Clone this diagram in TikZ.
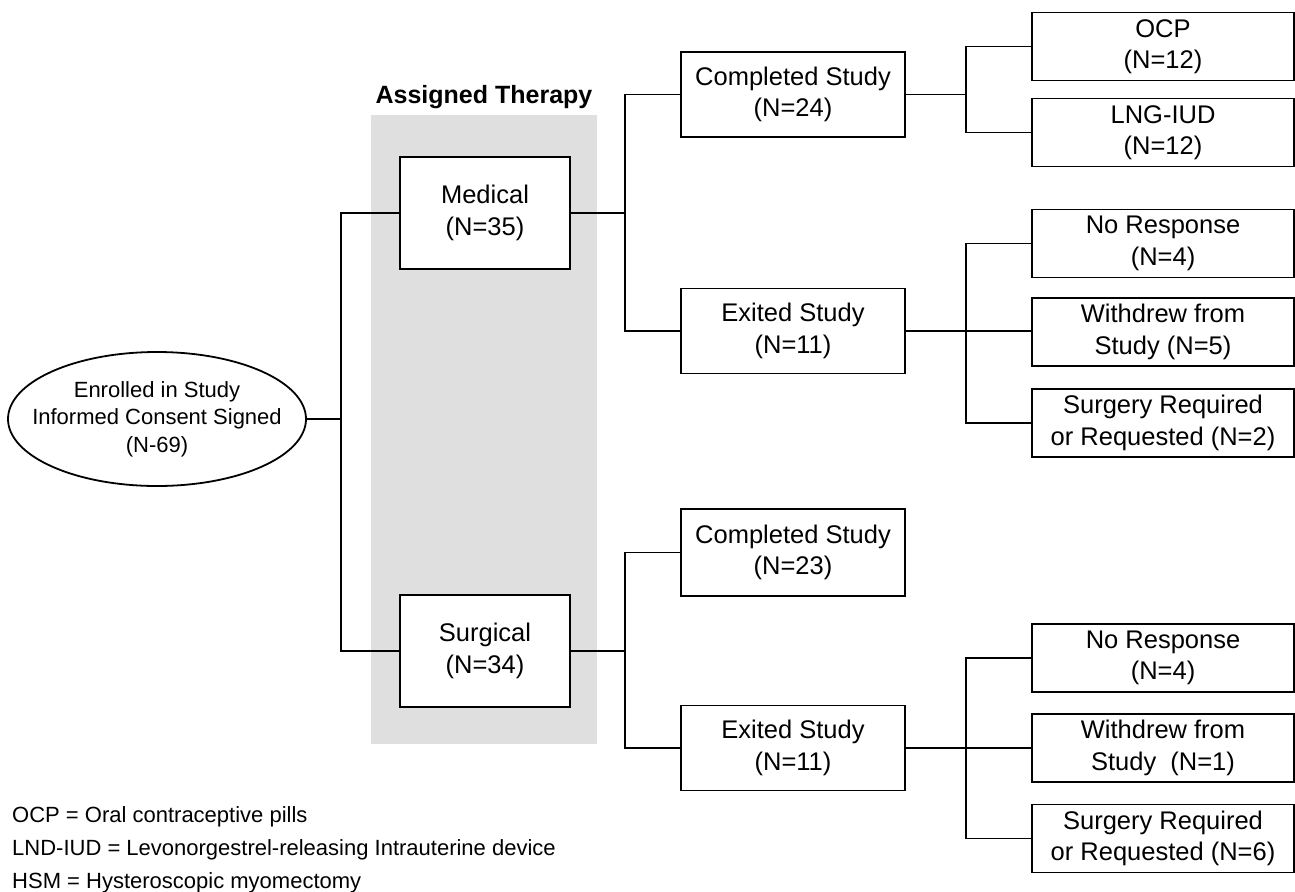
\documentclass[tikz,border=0pt]{standalone}
\usepackage{fontspec}
\setmainfont{Liberation Sans}
\usetikzlibrary{shapes.geometric}
\definecolor{panelgray}{RGB}{223,223,223}
\tikzset{
  conn/.style={draw=black, line width=1.8pt},
  box/.style={draw=black, line width=1.8pt, fill=white, align=center, inner sep=0pt,
    font=\fontsize{25.5}{31.5}\selectfont},
  midbox/.style={box, minimum width=224pt, minimum height=85pt},
  armbox/.style={box, minimum width=170pt, minimum height=112pt},
  endbox/.style={box, minimum width=262pt, minimum height=68pt},
  legend/.style={anchor=west, inner sep=0pt, font=\fontsize{22}{26}\selectfont},
}
\begin{document}
\begin{tikzpicture}[x=1pt,y=-1pt]
\useasboundingbox (0,0) rectangle (1295,891);
\fill[white] (0,0) rectangle (1295,891);
% shaded panel
\fill[panelgray] (371,115) rectangle (597,744);
\node[font=\fontsize{25}{30}\selectfont\bfseries, inner sep=0pt] (title) at (484,97) {Assigned Therapy};

% start
\node[ellipse, draw=black, line width=1.8pt, fill=white, minimum width=298pt, minimum height=134pt,
      inner sep=0pt,
      label={[align=center, inner sep=0pt, font=\fontsize{22}{27.5}\selectfont]center:Enrolled in Study\\Informed Consent Signed\\(N-69)}]
      (enr) at (157,419) {};

% arms
\node[armbox] (med) at (485,213) {Medical\\(N=35)};
\node[armbox] (sur) at (485,651) {Surgical\\(N=34)};

% middle column
\node[midbox] (comp1) at (793,94.5) {Completed Study\\(N=24)};
\node[midbox] (exit1) at (793,331) {Exited Study\\(N=11)};
\node[midbox, minimum height=87pt] (comp2) at (793,552.5) {Completed Study\\(N=23)};
\node[midbox] (exit2) at (793,748) {Exited Study\\(N=11)};

% right column
\node[endbox] (ocp) at (1163,46.5) {OCP\\(N=12)};
\node[endbox] (lng) at (1163,132.5) {LNG-IUD\\(N=12)};
\node[endbox] (nr1) at (1163,243.5) {No Response\\(N=4)};
\node[endbox] (wd1) at (1163,332) {Withdrew from\\Study (N=5)};
\node[endbox] (sr1) at (1163,423) {Surgery Required\\or Requested (N=2)};
\node[endbox] (nr2) at (1163,658) {No Response\\(N=4)};
\node[endbox] (wd2) at (1163,748) {Withdrew from\\Study\ \ (N=1)};
\node[endbox] (sr2) at (1163,838.5) {Surgery Required\\or Requested (N=6)};

% bus coordinates
\coordinate (b1) at (341,419);
\coordinate (b2) at (625,213);
\coordinate (b3) at (966,94.5);
\coordinate (b4) at (966,331);
\coordinate (b5) at (625,651);
\coordinate (b6) at (966,748);

% connectors
\draw[conn] (enr.east) -- (b1);
\draw[conn] (med.west) -| (b1) |- (sur.west);
\draw[conn] (med.east) -- (b2);
\draw[conn] (comp1.west) -| (b2) |- (exit1.west);
\draw[conn] (comp1.east) -- (b3);
\draw[conn] (ocp.west) -| (b3) |- (lng.west);
\draw[conn] (exit1.east) -- (b4) -- (b4 -| wd1.west);
\draw[conn] (nr1.west) -| (b4) |- (sr1.west);
\draw[conn] (sur.east) -- (b5);
\draw[conn] (comp2.west) -| (b5) |- (exit2.west);
\draw[conn] (exit2.east) -- (b6) -- (wd2.west);
\draw[conn] (nr2.west) -| (b6) |- (sr2.west);

% legend
\node[legend] (lg1) at (12,817) {OCP = Oral contraceptive pills};
\node[legend] (lg2) at (12,850) {LND-IUD = Levonorgestrel-releasing Intrauterine device};
\node[legend] (lg3) at (12,883) {HSM = Hysteroscopic myomectomy};
\end{tikzpicture}
\end{document}
